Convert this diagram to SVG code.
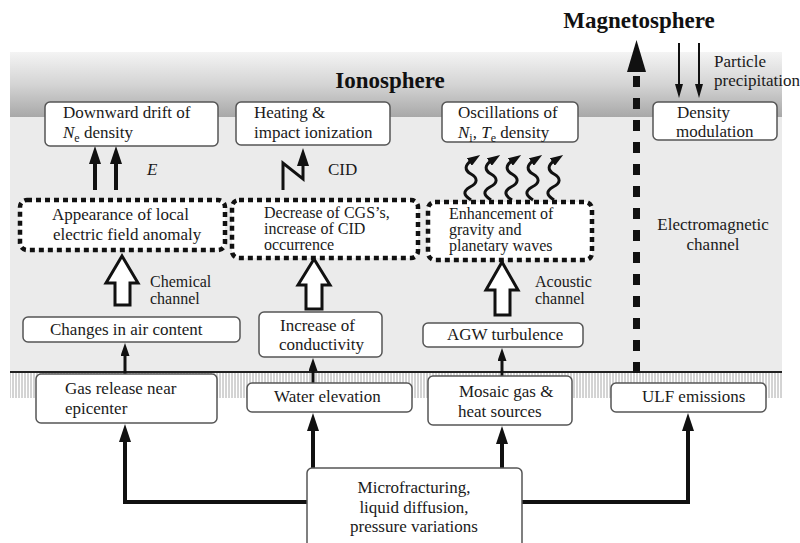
<svg xmlns="http://www.w3.org/2000/svg" width="800" height="543" viewBox="0 0 800 543" font-family="'Liberation Serif', 'DejaVu Serif', 'Times New Roman', serif">
<defs>
<linearGradient id="band" x1="0" y1="0" x2="0" y2="1">
<stop offset="0" stop-color="#f4f4f4"/>
<stop offset="0.5" stop-color="#d4d4d4"/>
<stop offset="1" stop-color="#a8a8a8"/>
</linearGradient>
<pattern id="hatch" width="3" height="26" patternUnits="userSpaceOnUse">
<line x1="1" y1="0" x2="1" y2="26" stroke="#a8a8a8" stroke-width="1"/>
</pattern>
<marker id="hb" markerUnits="userSpaceOnUse" markerWidth="18" markerHeight="12" refX="2" refY="6" orient="auto"><path d="M0,0 L18,6 L0,12 z" fill="#111"/></marker>
<marker id="hm" markerUnits="userSpaceOnUse" markerWidth="13" markerHeight="9" refX="2" refY="4.5" orient="auto"><path d="M0,0 L13,4.5 L0,9 z" fill="#111"/></marker>
<marker id="hs" markerUnits="userSpaceOnUse" markerWidth="14" markerHeight="8" refX="2" refY="4" orient="auto"><path d="M0,0 L14,4 L0,8 z" fill="#111"/></marker>
<style>
text{font-family:'Liberation Serif','DejaVu Serif','Times New Roman',serif;font-size:17px;fill:#1a1a1a}
.ttl{font-weight:bold;font-size:23px;fill:#111}
.box{fill:#fff;stroke:#555;stroke-width:1.5}
.dot{fill:#fff;stroke:#111;stroke-width:4.5;stroke-dasharray:5 4}
.c{text-anchor:middle}
.it{font-style:italic}
.sub{font-size:12px}
.sm{font-size:16px}
.bold{fill:none;stroke:#111;stroke-width:4}
.med{fill:none;stroke:#111;stroke-width:3}
.thin{fill:none;stroke:#111;stroke-width:2}
.hollow{fill:#fff;stroke:#111;stroke-width:3;stroke-linejoin:miter}
</style>
</defs>

<g id="background">
<rect x="10" y="52" width="772" height="65" fill="url(#band)"/>
<rect x="10" y="117" width="772" height="255" fill="#ebebeb"/>
<rect x="10" y="372" width="772" height="26" fill="url(#hatch)"/>
<line x1="10" y1="372" x2="782" y2="372" stroke="#222" stroke-width="2"/>
</g>

<g id="labels">
<text class="ttl" x="390" y="88" text-anchor="middle">Ionosphere</text>
<text class="ttl" x="639" y="28" text-anchor="middle">Magnetosphere</text>
<text x="714" y="67" font-size="16">Particle</text>
<text x="714" y="86" font-size="16">precipitation</text>
<text class="it" x="147" y="175">E</text>
<text x="328" y="175">CID</text>
<text class="sm" x="150" y="287">Chemical</text>
<text class="sm" x="150" y="304">channel</text>
<text class="sm" x="535" y="287">Acoustic</text>
<text class="sm" x="535" y="304">channel</text>
<text class="c" x="713" y="230">Electromagnetic</text>
<text class="c" x="713" y="250">channel</text>
</g>

<g id="connectors">
<line class="bold" x1="95" y1="190" x2="95" y2="162" marker-end="url(#hb)"/>
<line class="bold" x1="116" y1="190" x2="116" y2="162" marker-end="url(#hb)"/>
<path class="med" d="M283,190 L283,163 L303,179 L303,164" marker-end="url(#hb)"/>
<path class="med" d="M471,200 C463,195 463,191 470,187 C478,183 478,178 471,174 C464,170 465,165 471,161" marker-end="url(#hm)"/>
<path class="med" d="M491,200 C483,195 483,191 490,187 C498,183 498,178 491,174 C484,170 485,165 491,161" marker-end="url(#hm)"/>
<path class="med" d="M512,200 C504,195 504,191 511,187 C519,183 519,178 512,174 C505,170 506,165 512,161" marker-end="url(#hm)"/>
<path class="med" d="M533,200 C525,195 525,191 532,187 C540,183 540,178 533,174 C526,170 527,165 533,161" marker-end="url(#hm)"/>
<path class="med" d="M554,200 C546,195 546,191 553,187 C561,183 561,178 554,174 C547,170 548,165 554,161" marker-end="url(#hm)"/>
<line class="thin" x1="679" y1="43" x2="679" y2="86" marker-end="url(#hs)"/>
<line class="thin" x1="699" y1="43" x2="699" y2="86" marker-end="url(#hs)"/>
<polygon points="627,72 646,72 636.5,40" fill="#111"/>
<line x1="636.5" y1="76" x2="636.5" y2="378" stroke="#111" stroke-width="7" stroke-dasharray="11 11"/>
<polygon class="hollow" points="122,256 138,283 130,283 130,305 115,305 115,283 106,283"/>
<polygon class="hollow" points="314,259 330,285 322,285 322,309 306,309 306,285 298,285"/>
<polygon class="hollow" points="502,262 518,290 510,290 510,315 495,315 495,290 486,290"/>
<line class="med" x1="125" y1="374" x2="125" y2="354" marker-end="url(#hm)"/>
<line class="med" x1="313" y1="383" x2="313" y2="369" marker-end="url(#hm)"/>
<line class="med" x1="502" y1="376" x2="502" y2="359" marker-end="url(#hm)"/>
<path class="bold" d="M307,502 L125,502 L125,440" marker-end="url(#hb)"/>
<path class="bold" d="M522,502 L688,502 L688,429" marker-end="url(#hb)"/>
<line class="bold" x1="313" y1="468" x2="313" y2="429" marker-end="url(#hb)"/>
<line class="bold" x1="502" y1="468" x2="502" y2="442" marker-end="url(#hb)"/>
</g>

<g id="downward-drift">
<rect class="box" x="45" y="102" width="173" height="44" rx="5"/>
<text x="63" y="118">Downward drift of</text>
<text x="63" y="138"><tspan class="it">N</tspan><tspan class="sub" dy="4">e</tspan><tspan dy="-4"> density</tspan></text>
</g>
<g id="heating">
<rect class="box" x="236" y="102" width="154" height="43" rx="5"/>
<text x="254" y="118">Heating &amp;</text>
<text x="254" y="138">impact ionization</text>
</g>
<g id="oscillations">
<rect class="box" x="442" y="102" width="136" height="40" rx="5"/>
<text x="458" y="118">Oscillations of</text>
<text x="458" y="138"><tspan class="it">N</tspan><tspan class="sub" dy="4">i</tspan><tspan dy="-4">, </tspan><tspan class="it">T</tspan><tspan class="sub" dy="4">e</tspan><tspan dy="-4"> density</tspan></text>
</g>
<g id="density-modulation">
<rect class="box" x="653" y="102" width="124" height="38" rx="5"/>
<text x="677" y="118">Density</text>
<text x="676" y="137">modulation</text>
</g>

<g id="electric-field">
<rect class="dot" x="20" y="200" width="205" height="50" rx="7"/>
<text x="52" y="220">Appearance of local</text>
<text x="53" y="240">electric field anomaly</text>
</g>
<g id="cgs">
<rect class="dot" x="232" y="200" width="186" height="58" rx="7"/>
<text class="sm" x="264" y="218">Decrease of CGS’s,</text>
<text class="sm" x="264" y="234">increase of CID</text>
<text class="sm" x="264" y="250">occurrence</text>
</g>
<g id="gravity-waves">
<rect class="dot" x="428" y="202" width="164" height="58" rx="7"/>
<text class="sm" x="449" y="219">Enhancement of</text>
<text class="sm" x="449" y="235">gravity and</text>
<text class="sm" x="449" y="251">planetary waves</text>
</g>

<g id="air-content">
<rect class="box" x="23" y="317" width="217" height="25" rx="5"/>
<text x="50" y="335">Changes in air content</text>
</g>
<g id="conductivity">
<rect class="box" x="259" y="312" width="123" height="45" rx="5"/>
<text x="280" y="331">Increase of</text>
<text x="279" y="350">conductivity</text>
</g>
<g id="agw">
<rect class="box" x="423" y="323" width="160" height="24" rx="5"/>
<text x="447" y="340">AGW turbulence</text>
</g>

<g id="gas-release">
<rect class="box" x="36" y="374" width="181" height="49" rx="5"/>
<text x="65" y="394">Gas release near</text>
<text x="65" y="414">epicenter</text>
</g>
<g id="water">
<rect class="box" x="247" y="383" width="165" height="29" rx="5"/>
<text x="274" y="402">Water elevation</text>
</g>
<g id="mosaic">
<rect class="box" x="428" y="376" width="144" height="49" rx="5"/>
<text x="459" y="397">Mosaic gas &amp;</text>
<text x="458" y="417">heat sources</text>
</g>
<g id="ulf">
<rect class="box" x="611" y="383" width="155" height="29" rx="5"/>
<text x="642" y="402">ULF emissions</text>
</g>

<g id="microfracturing">
<rect class="box" x="307" y="468" width="215" height="85" rx="5" stroke="#222" stroke-width="2.5"/>
<text class="c" x="414" y="493">Microfracturing,</text>
<text class="c" x="414" y="513">liquid diffusion,</text>
<text class="c" x="414" y="532">pressure variations</text>
</g>
</svg>
